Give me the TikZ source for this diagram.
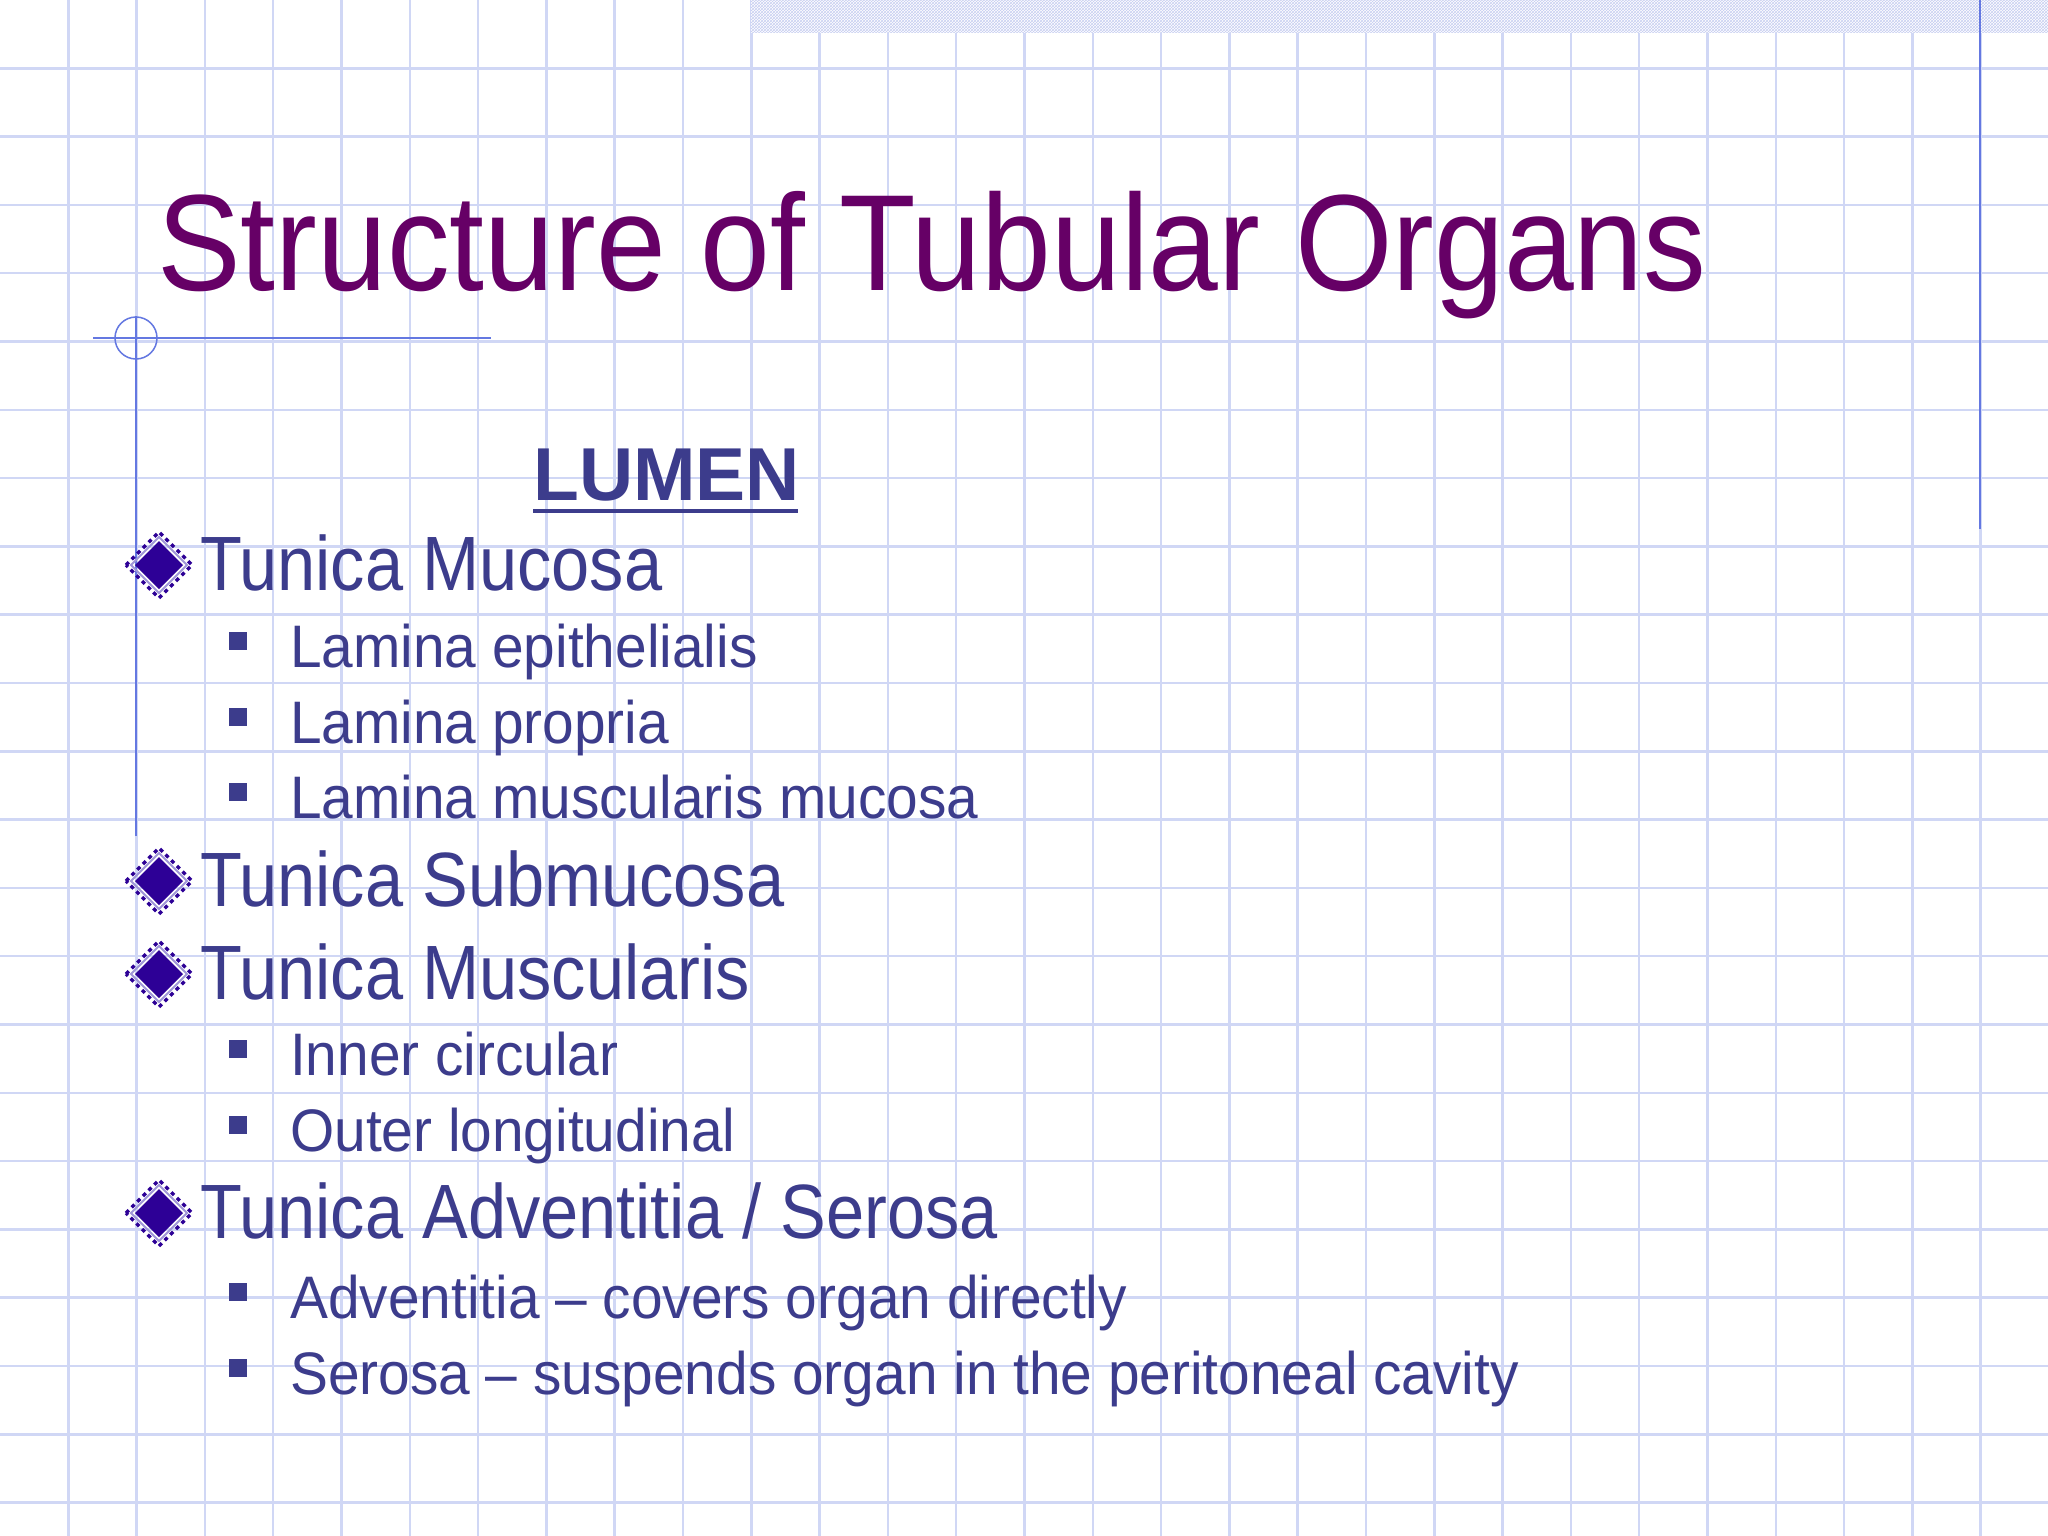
\documentclass[tikz,border=0pt]{standalone}
\usepackage{fontspec}
\setmainfont{Liberation Sans}
\usetikzlibrary{patterns}
\definecolor{gridc}{RGB}{208,215,245}
\definecolor{bandc}{RGB}{200,207,242}
\definecolor{titlec}{RGB}{102,0,102}
\definecolor{textc}{RGB}{60,60,140}
\definecolor{linec}{RGB}{100,120,225}
\definecolor{diac}{RGB}{45,0,150}
\newcommand{\xa}[1]{\scalebox{0.89}[1]{#1}}
\newcommand{\xb}[1]{\scalebox{0.947}[1]{#1}}
\tikzset{
  lvla/.style={anchor=base west,inner sep=0pt,text=textc,font=\fontsize{77}{90}\selectfont},
  lvlb/.style={anchor=base west,inner sep=0pt,text=textc,font=\fontsize{60}{70}\selectfont},
  sqb/.style={fill=textc,minimum size=18pt,inner sep=0pt,draw=none},
}
\newcommand{\diam}[2]{%
  \fill[diac] (#1-24,#2) -- (#1,#2-24) -- (#1+24,#2) -- (#1,#2+24) -- cycle;
  \draw[diac,line width=3.5pt,dash pattern=on 4pt off 4pt] (#1-33,#2) -- (#1,#2-33) -- (#1+33,#2) -- (#1,#2+33) -- cycle;
  \draw[gridc!70!diac,line width=2pt] (#1-28,#2) -- (#1,#2-28) -- (#1+28,#2) -- (#1,#2+28) -- cycle;}
\begin{document}
\begin{tikzpicture}[x=1pt,y=-1pt]
\useasboundingbox (0,0) rectangle (2048,1536);
\fill[white] (0,0) rectangle (2048,1536);
\foreach \i in {1,...,29} \draw[gridc,line width=2.5pt] ({\i*68.3},0) -- ({\i*68.3},1536);
\foreach \j in {1,...,22} \draw[gridc,line width=2.5pt] (0,{\j*68.3}) -- (2048,{\j*68.3});
\fill[white] (751,0) rectangle (2048,33);
\fill[pattern=crosshatch,pattern color=bandc] (751,0) rectangle (2048,33);
\draw[linec,line width=2pt] (1980,0) -- (1980,529);
\draw[linec,line width=2pt] (93,338) -- (491,338);
\draw[linec,line width=2pt] (136,316) -- (136,836);
\draw[linec,line width=1.5pt] (136,338) circle (21);
\node[anchor=base west,inner sep=0pt,text=titlec,font=\fontsize{137}{150}\selectfont] (title) at (157,290) {\scalebox{0.915}[1]{Structure of Tubular Organs}};
\node[anchor=base west,inner sep=0pt,text=textc,font=\bfseries\fontsize{75}{85}\selectfont] (lumen) at (533,500) {LUMEN};
\draw[textc,line width=4pt] (lumen.south west)++(0,10) -- ++(265,0);
\diam{159}{565}
\node[lvla] (a1) at (200,590) {\xa{Tunica Mucosa}};
\node[sqb] (b1) at (238,641) {}; \node[lvlb] (t1) at (290,667) {\xb{Lamina epithelialis}};
\node[sqb] (b2) at (238,717) {}; \node[lvlb] (t2) at (290,743) {\xb{Lamina propria}};
\node[sqb] (b3) at (238,792) {}; \node[lvlb] (t3) at (290,818) {\xb{Lamina muscularis mucosa}};
\diam{159}{881}
\node[lvla] (a2) at (200,906) {\xa{Tunica Submucosa}};
\diam{159}{974}
\node[lvla] (a3) at (200,999) {\xa{Tunica Muscularis}};
\node[sqb] (b4) at (238,1049) {}; \node[lvlb] (t4) at (290,1075) {\xb{Inner circular}};
\node[sqb] (b5) at (238,1125) {}; \node[lvlb] (t5) at (290,1151) {\xb{Outer longitudinal}};
\diam{159}{1213}
\node[lvla] (a4) at (200,1238) {\xa{Tunica Adventitia / Serosa}};
\node[sqb] (b6) at (238,1292) {}; \node[lvlb] (t6) at (290,1318) {\xb{Adventitia – covers organ directly}};
\node[sqb] (b7) at (238,1368) {}; \node[lvlb] (t7) at (290,1394) {\xb{Serosa – suspends organ in the peritoneal cavity}};
\end{tikzpicture}
\end{document}
